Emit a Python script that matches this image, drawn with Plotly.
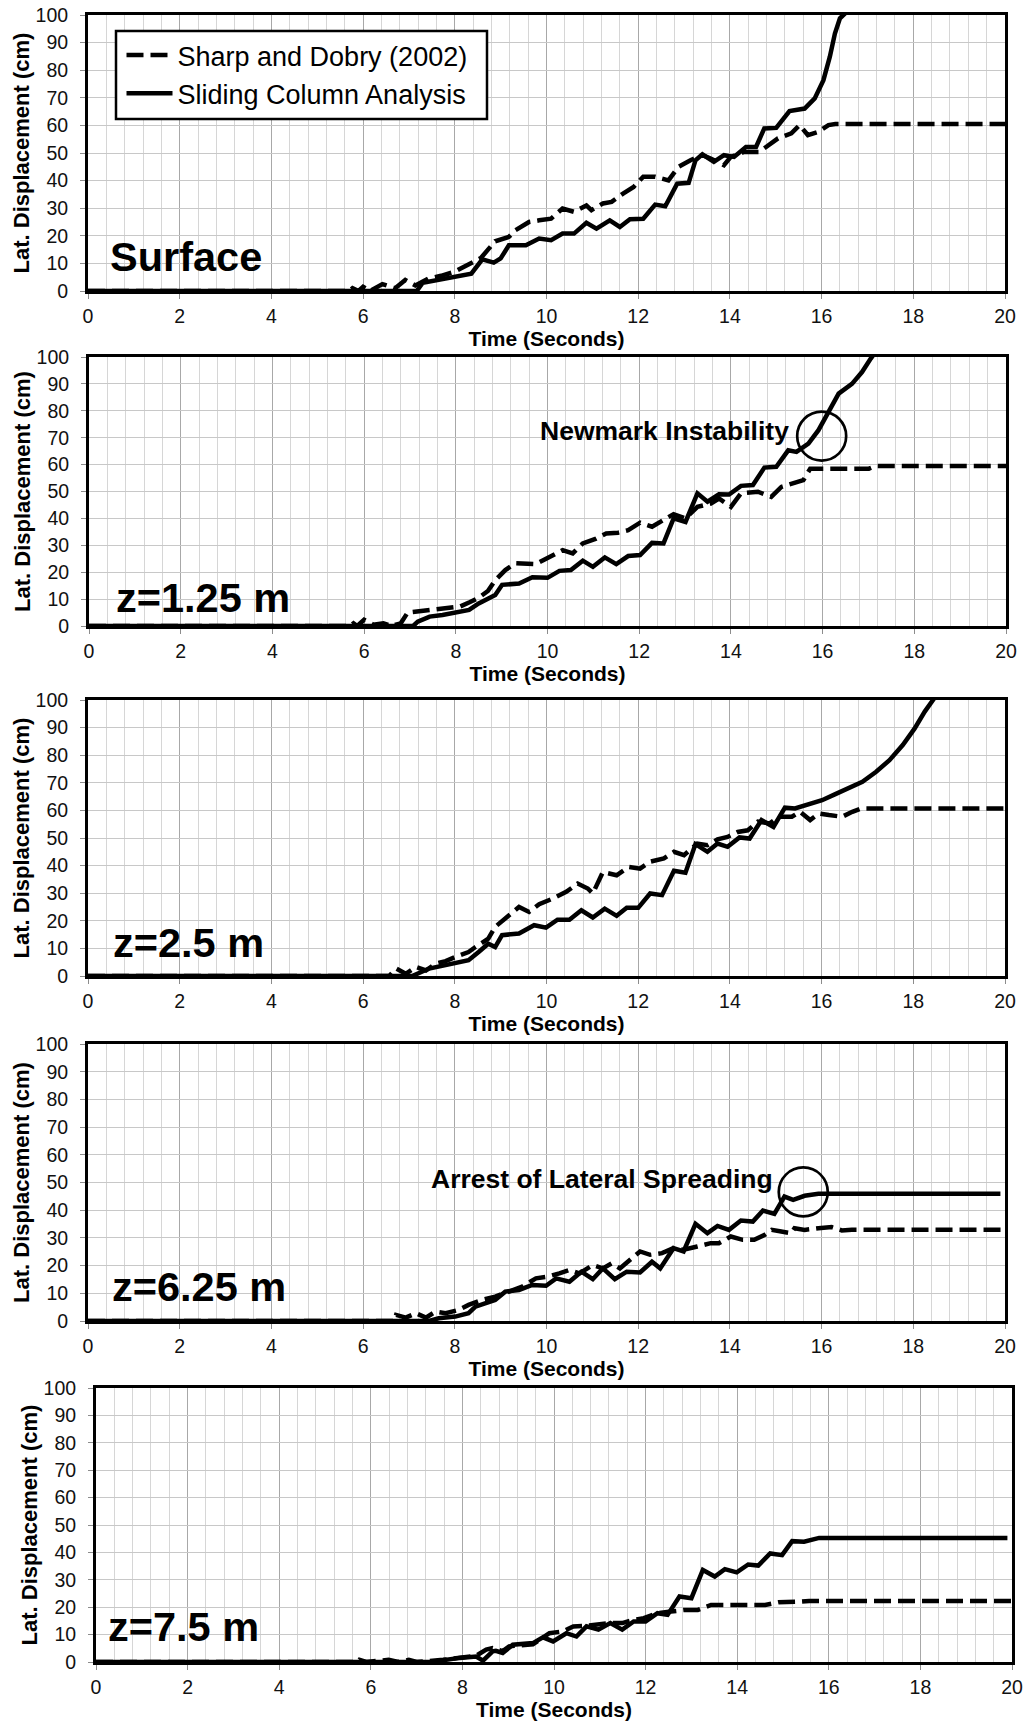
import plotly.graph_objects as go

FONT = "Liberation Sans, Arial, Helvetica, sans-serif"

# ---------------------------------------------------------------------------
# Lateral displacement (cm) versus time (s) at five depths.
# "sd" = Sharp and Dobry (2002), "sc" = sliding column analysis.
# ---------------------------------------------------------------------------

# Surface
surface_sd_t = [0, 5.7, 5.77, 5.9, 6.0, 6.15, 6.42, 6.6, 6.7, 6.92, 7.14, 7.42, 7.7, 8.0, 8.28,
                8.57, 8.88, 9.18, 9.32, 9.62, 9.84, 10.1, 10.35, 10.6, 10.87, 10.98, 11.23,
                11.42, 11.67, 11.9, 12.11, 12.37, 12.66, 12.88, 13.14, 13.4, 13.58, 13.87,
                14.02, 14.31, 14.64, 14.75, 15.05, 15.34, 15.52, 15.7, 15.93, 16.15, 16.3, 20]
surface_sd_d = [0, 0, 1, 0, 1.5, 0, 2.5, 1.5, 1, 4, 2, 4.5, 5.5, 7, 9.5,
                12, 18, 19.6, 22, 25, 25.6, 26.2, 29.9, 28.7, 31, 29.3, 31.7,
                32.3, 35.3, 37.7, 41.4, 41.4, 40.1, 45, 47.4, 49.2, 48, 45.6,
                48.6, 50.4, 50.4, 51.6, 55.3, 57.1, 60.1, 56.5, 57.7, 60.1, 60.5, 60.5]
surface_sc_t = [0, 7.17, 7.3, 7.6, 8.0, 8.36, 8.6, 8.85, 9.0, 9.18, 9.55, 9.84, 10.1, 10.35,
                10.6, 10.87, 11.09, 11.38, 11.6, 11.82, 12.11, 12.37, 12.59, 12.85, 13.1,
                13.25, 13.4, 13.65, 13.87, 14.09, 14.35, 14.57, 14.75, 15.01, 15.3, 15.63,
                15.85, 16.04, 16.18, 16.29, 16.4, 16.51, 16.65]
surface_sc_d = [0, 0, 3, 4, 5.5, 6.3, 11.5, 10.3, 11.8, 16.6, 16.6, 19, 18.4, 20.8,
                20.8, 24.7, 22.6, 25.6, 23.2, 26, 26.2, 31.3, 30.7, 38.9, 39.2,
                47.4, 49.5, 46.8, 49.2, 48.6, 52.2, 52.2, 58.9, 59.1, 65.2, 66.1,
                69.8, 76.4, 84.9, 93.3, 98.8, 100.5, 104]

# z = 1.25 m
z125_sd_t = [0, 5.7, 5.77, 5.85, 6.0, 6.2, 6.42, 6.6, 6.8, 6.95, 7.2, 7.5, 7.8, 8.1, 8.3,
             8.5, 8.7, 8.86, 9.08, 9.3, 9.74, 9.96, 10.33, 10.55, 10.77, 11.06, 11.28,
             11.54, 11.76, 12.02, 12.28, 12.53, 12.75, 13.01, 13.27, 13.56, 13.74, 14.0,
             14.22, 14.59, 14.88, 15.1, 15.4, 15.58, 15.73, 17.01, 17.16, 20]
z125_sd_d = [0, 0, 1, 0, 2.3, 0.5, 1, 0, 1, 5, 5.5, 6, 6.8, 7.3, 8.8,
             10.5, 13, 17, 20.8, 23.3, 23, 25.1, 28.2, 27, 30.7, 32.5, 34.4,
             34.7, 35.6, 38.4, 36.9, 39.4, 41.6, 40, 44.3, 45.5, 47.4, 44.3,
             49.3, 49.9, 48, 51.7, 53, 54.2, 58.5, 58.5, 59.5, 59.5]
z125_sc_t = [0, 7.07, 7.17, 7.43, 7.71, 8.0, 8.29, 8.5, 8.72, 8.86, 9.01, 9.38, 9.67, 10.0,
             10.26, 10.51, 10.77, 10.99, 11.25, 11.5, 11.76, 12.02, 12.28, 12.53, 12.75,
             13.01, 13.27, 13.49, 13.74, 13.96, 14.22, 14.48, 14.73, 14.99, 15.25, 15.43,
             15.69, 15.91, 16.13, 16.35, 16.64, 16.86, 17.05, 17.2]
z125_sc_d = [0, 0, 1.6, 3.5, 4.1, 5, 6, 8.4, 10.2, 11.5, 15.3, 15.8, 18.1, 17.9,
             20.5, 20.8, 24.3, 22, 25.5, 23, 26, 26.4, 30.9, 30.7, 40,
             38.7, 49.3, 46.2, 49, 48.9, 52.1, 52.4, 58.9, 59.2, 65.3, 64.7,
             67.8, 72.8, 79.6, 86.4, 90, 94.4, 99.4, 103]

# z = 2.5 m
z25_sd_t = [0, 6.57, 6.72, 6.93, 7.15, 7.37, 7.58, 7.8, 8.01, 8.3, 8.45, 8.73, 8.88, 9.18,
            9.4, 9.62, 9.84, 10.13, 10.43, 10.68, 10.9, 11.01, 11.23, 11.53, 11.79, 12.04,
            12.26, 12.56, 12.78, 13.0, 13.29, 13.51, 13.73, 13.95, 14.17, 14.39, 14.61,
            14.87, 15.06, 15.35, 15.53, 15.75, 15.94, 16.16, 16.45, 16.67, 16.86, 20]
z25_sd_d = [0, 0, 2.7, 0.8, 3.3, 2, 4.5, 5.4, 6.9, 8.7, 10.5, 13.5, 17.8, 22,
            25, 23.2, 26, 28, 30.5, 33.5, 31.7, 29.9, 37.7, 36.5, 39.5, 38.9,
            41.4, 42.6, 45, 43.8, 48, 47.4, 49.5, 50.4, 52.2, 52.8, 55.9,
            55.3, 57.7, 57.7, 59.5, 56.5, 58.9, 58.3, 57.7, 59.5, 60.7, 60.7]
z25_sc_t = [0, 7.07, 7.44, 7.94, 8.3, 8.52, 8.73, 8.88, 9.03, 9.4, 9.73, 9.99, 10.24, 10.5,
            10.76, 11.01, 11.27, 11.53, 11.75, 12.0, 12.26, 12.52, 12.78, 13.03, 13.25,
            13.51, 13.73, 13.95, 14.21, 14.43, 14.69, 14.95, 15.2, 15.42, 15.72, 16.01,
            16.3, 16.6, 16.89, 17.19, 17.48, 17.77, 18.03, 18.25, 18.43, 18.6]
z25_sc_d = [0, 0, 2.7, 4.5, 5.7, 8.7, 11.7, 10.5, 14.8, 15.4, 18.4, 17.5, 20.4, 20.4,
            23.8, 21.2, 24.4, 21.8, 24.7, 24.7, 29.9, 29.3, 38.1, 37.4, 47.8,
            45, 48, 46.8, 50.2, 49.8, 56.5, 54, 61, 60.7, 62.3, 63.7,
            65.9, 68, 70.4, 74, 78.2, 83.7, 89.7, 95.8, 100.3, 104]

# z = 6.25 m
z625_sd_t = [0, 6.68, 6.72, 6.93, 7.15, 7.37, 7.58, 7.8, 8.08, 8.3, 8.59, 8.88, 9.18, 9.47,
             9.77, 10.02, 10.28, 10.5, 10.72, 11.01, 11.23, 11.42, 11.6, 11.82, 12.04,
             12.26, 12.52, 12.77, 12.99, 13.29, 13.58, 13.76, 14.02, 14.28, 14.53, 14.76,
             14.91, 15.12, 15.34, 15.41, 15.63, 15.93, 16.22, 16.44, 16.66, 20]
z625_sd_d = [0, 0, 2.2, 1.2, 2.8, 1.2, 3.4, 2.8, 4, 5.8, 7.6, 8.8, 10.6, 12.4,
             15.4, 16, 17.2, 18.4, 17.2, 20.2, 19, 20.8, 19, 22, 25.1,
             23.9, 24.5, 26.3, 25.7, 26.9, 28.1, 28.1, 30.5, 29.3, 29.3, 31.1,
             32.9, 32.3, 31.7, 33.5, 32.9, 33.5, 33.9, 32.7, 32.9, 32.9]
z625_sc_t = [0, 7.44, 7.65, 8.01, 8.3, 8.45, 8.66, 8.88, 9.1, 9.4, 9.69, 9.99, 10.21, 10.5,
             10.76, 11.01, 11.23, 11.49, 11.75, 12.04, 12.3, 12.48, 12.77, 12.99, 13.25,
             13.51, 13.73, 13.98, 14.24, 14.5, 14.72, 14.97, 15.19, 15.38, 15.63, 15.93, 19.9]
z625_sc_d = [0, 0, 1, 1.6, 2.8, 5.2, 6.4, 7.6, 10.6, 11.2, 13, 12.7, 15.4, 14.2,
             17.8, 15.1, 19, 15.1, 17.8, 17.5, 21.4, 19, 26.3, 25.1, 35.1,
             31.7, 34.3, 32.9, 36.3, 35.9, 39.9, 38.7, 44.9, 43.7, 45.2, 45.9, 45.9]

# z = 7.5 m
z75_sd_t = [0, 5.7, 5.75, 5.9, 6.39, 6.6, 6.83, 7.0, 7.58, 7.87, 8.16, 8.3, 8.52, 8.66,
            8.88, 9.02, 9.54, 9.9, 10.2, 10.42, 10.68, 10.93, 11.23, 11.49, 11.74, 11.96,
            12.26, 12.55, 12.85, 13.14, 13.43, 14.61, 14.9, 15.34, 15.57, 20]
z75_sd_d = [0, 0, 0.8, 0, 0.8, 0, 0.8, 0, 0.8, 1.5, 2, 2.3, 4.5, 5.1,
            4, 5.7, 6.5, 10.5, 11.2, 13, 13.2, 13.6, 14.2, 14.2, 15.4, 16,
            17.8, 18.4, 19, 19, 20.8, 20.8, 21.8, 22, 22.3, 22.3]
z75_sc_t = [0, 7.3, 7.94, 8.3, 8.45, 8.66, 8.73, 8.88, 9.1, 9.54, 9.76, 9.98, 10.27, 10.49,
            10.71, 10.97, 11.23, 11.49, 11.74, 12.0, 12.26, 12.48, 12.74, 13.0, 13.25,
            13.51, 13.73, 13.99, 14.24, 14.46, 14.72, 14.98, 15.2, 15.46, 15.79, 19.9]
z75_sc_d = [0, 0, 1.5, 2, 0.5, 3.9, 4.1, 3.3, 6.3, 6.9, 9, 7.5, 10.5, 9.3,
            13, 11.8, 14.2, 11.8, 14.8, 14.8, 17.8, 17.2, 23.9, 23.3, 33.6,
            31.2, 33.9, 32.7, 35.6, 35.2, 39.6, 39, 44.1, 43.9, 45.3, 45.3]

panel_labels = ["Surface", "z=1.25 m", "z=2.5 m", "z=6.25 m", "z=7.5 m"]
series_names = ["Sharp and Dobry (2002)", "Sliding Column Analysis"]

sd_times = [surface_sd_t, z125_sd_t, z25_sd_t, z625_sd_t, z75_sd_t]
sd_disps = [surface_sd_d, z125_sd_d, z25_sd_d, z625_sd_d, z75_sd_d]
sc_times = [surface_sc_t, z125_sc_t, z25_sc_t, z625_sc_t, z75_sc_t]
sc_disps = [surface_sc_d, z125_sc_d, z25_sc_d, z625_sc_d, z75_sc_d]

# ---------------------------------------------------------------------------
# Layout geometry (pixels in a 1034 x 1721 page)
# ---------------------------------------------------------------------------
W, H = 1034, 1721
plot_left = [88, 89, 88, 88, 96]
plot_right = [1005, 1006, 1005, 1005, 1012]
plot_top = [15, 357, 700, 1044, 1388]
plot_bottom = [291, 626, 976, 1321, 1662]
label_left_px = [108, 114, 111, 110, 106]
label_baseline_px = [272, 613, 958, 1302, 1642]

# legend frame (pixels)
legend_box = dict(left=116, top=31, right=487, bottom=119)

fig = go.Figure()

sd_line = dict(color="black", width=4.5, dash="17px,7px")
sc_line = dict(color="black", width=4.5)

for i in range(5):
    sfx = "" if i == 0 else str(i + 1)
    fig.add_trace(go.Scatter(
        x=sd_times[i], y=sd_disps[i], mode="lines", name=series_names[0],
        line=sd_line, xaxis="x" + sfx, yaxis="y" + sfx,
        legendgroup="sd", showlegend=(i == 0), hoverinfo="x+y"))
    fig.add_trace(go.Scatter(
        x=sc_times[i], y=sc_disps[i], mode="lines", name=series_names[1],
        line=sc_line, xaxis="x" + sfx, yaxis="y" + sfx,
        legendgroup="sc", showlegend=(i == 0), hoverinfo="x+y"))

tick_font = dict(family=FONT, size=19.5, color="#111111")
xtitle_font = dict(family=FONT, size=21, color="black", weight="bold")
ytitle_font = dict(family=FONT, size=22, color="black", weight="bold")

layout = dict(
    width=W, height=H,
    margin=dict(l=0, r=0, t=0, b=0, autoexpand=False),
    paper_bgcolor="white", plot_bgcolor="white",
    font=dict(family=FONT, color="black"),
    showlegend=True,
    legend=dict(
        x=(legend_box["left"] + 5.5) / W, y=1 - legend_box["top"] / H,
        xanchor="left", yanchor="top",
        bgcolor="rgba(0,0,0,0)", borderwidth=0,
        font=dict(family=FONT, size=27, color="black"),
        traceorder="normal", itemwidth=46,
    ),
)

annotations = []
shapes = []

# white legend frame with a black border, drawn over the grid
shapes.append(dict(
    type="rect", xref="paper", yref="paper", layer="above",
    x0=legend_box["left"] / W, x1=legend_box["right"] / W,
    y0=1 - legend_box["bottom"] / H, y1=1 - legend_box["top"] / H,
    fillcolor="white", line=dict(color="black", width=2.5),
))

for i in range(5):
    sfx = "" if i == 0 else str(i + 1)
    xd = [plot_left[i] / W, plot_right[i] / W]
    yd = [1 - plot_bottom[i] / H, 1 - plot_top[i] / H]
    layout["xaxis" + sfx] = dict(
        domain=xd, anchor="y" + sfx, range=[0, 20], dtick=2, tick0=0,
        ticks="outside", ticklen=5, tickcolor="#8c8c8c", tickwidth=1,
        showgrid=True, gridcolor="#a8a8a8", gridwidth=1,
        minor=dict(dtick=0.4, tick0=0, showgrid=True, gridcolor="#d6d6d6", gridwidth=1),
        showline=True, linecolor="black", linewidth=3, mirror=True,
        zeroline=False, tickfont=tick_font, ticklabelstandoff=1,
        title=dict(text="Time (Seconds)", font=xtitle_font, standoff=0),
        fixedrange=True,
    )
    layout["yaxis" + sfx] = dict(
        domain=yd, anchor="x" + sfx, range=[0, 100], dtick=10, tick0=0,
        ticks="outside", ticklen=5, tickcolor="#8c8c8c", tickwidth=1,
        showgrid=True, gridcolor="#c8c8c8", gridwidth=1,
        showline=True, linecolor="black", linewidth=3, mirror=True,
        zeroline=False, tickfont=tick_font, ticklabelstandoff=8,
        title=dict(text="Lat. Displacement (cm)", font=ytitle_font, standoff=0),
        fixedrange=True,
    )
    # depth label in the lower-left corner of each panel
    h = plot_bottom[i] - plot_top[i]
    w = plot_right[i] - plot_left[i]
    annotations.append(dict(
        text=panel_labels[i], xref="x%s domain" % sfx, yref="y%s domain" % sfx,
        x=(label_left_px[i] - plot_left[i]) / w,
        y=(plot_bottom[i] - label_baseline_px[i] - 10) / h,
        xanchor="left", yanchor="bottom", showarrow=False,
        font=dict(family=FONT, size=41.5, color="black", weight="bold"),
    ))

# call-outs
annotations.append(dict(
    text="Newmark Instability", xref="x2", yref="y2", x=15.3, y=66.0,
    xanchor="right", yanchor="bottom", showarrow=False,
    font=dict(family=FONT, size=26.5, color="black", weight="bold"),
))
annotations.append(dict(
    text="Arrest of Lateral Spreading", xref="x4", yref="y4", x=14.98, y=45.3,
    xanchor="right", yanchor="bottom", showarrow=False,
    font=dict(family=FONT, size=26.5, color="black", weight="bold"),
))
for xr, yr, cx, cy in [("x2", "y2", 15.98, 70.6), ("x4", "y4", 15.6, 46.6)]:
    shapes.append(dict(
        type="circle", xref=xr, yref=yr, xsizemode="pixel", ysizemode="pixel",
        xanchor=cx, yanchor=cy, x0=-24.5, x1=24.5, y0=-24.5, y1=24.5,
        line=dict(color="black", width=2.7), fillcolor="rgba(0,0,0,0)",
    ))

layout["annotations"] = annotations
layout["shapes"] = shapes
fig.update_layout(**layout)

fig.write_html("out.html", config={"displayModeBar": False})
